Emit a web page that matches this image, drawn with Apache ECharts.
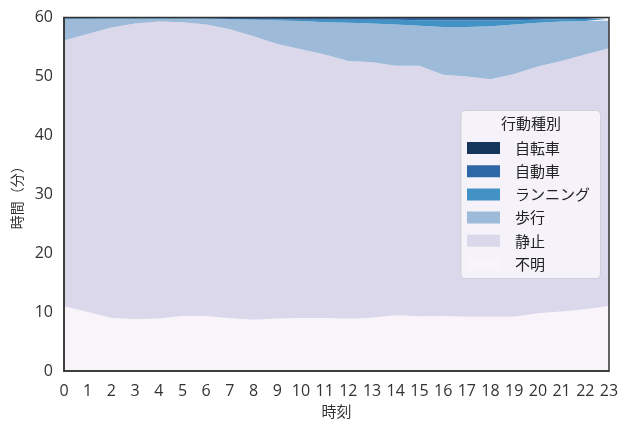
<!DOCTYPE html>
<html><head><meta charset="utf-8">
<script src="https://cdn.jsdelivr.net/npm/echarts@6/dist/echarts.min.js"></script>
<style>html,body{margin:0;padding:0;background:#fff;}#c{width:620px;height:421px;}</style>
</head><body><div id="c"></div>
<script>
const hours = ['0','1','2','3','4','5','6','7','8','9','10','11','12','13','14','15','16','17','18','19','20','21','22','23'];
const unknownVals = [11.0,10.0,9.0,8.8,8.9,9.35,9.35,8.95,8.7,8.9,9.0,9.0,8.85,9.05,9.45,9.3,9.35,9.2,9.2,9.2,9.8,10.1,10.5,11.05];
const stillVals = [45.1,47.2,49.3,50.2,50.4,49.85,49.45,49.05,48.1,46.6,45.6,44.7,43.75,43.35,42.35,42.5,40.95,40.8,40.3,41.2,41.9,42.5,43.2,43.75];
const walkVals = [3.65,2.55,1.5,0.8,0.5,0.6,0.95,1.7,2.8,4.0,4.8,5.5,6.5,6.6,7.0,6.8,8.1,8.4,9.0,8.4,7.4,6.7,5.7,4.7];
const runVals = [0.1,0.1,0.1,0.1,0.1,0.1,0.1,0.05,0.1,0.15,0.2,0.4,0.5,0.6,0.8,0.95,1.1,1.1,1.0,0.75,0.5,0.4,0.35,0.3];
const carVals = [0.1,0.1,0.05,0.05,0.05,0.05,0.1,0.15,0.2,0.25,0.3,0.3,0.3,0.3,0.3,0.35,0.4,0.4,0.4,0.35,0.3,0.25,0.2,0.15];
const bikeVals = [0.05,0.05,0.05,0.05,0.05,0.05,0.05,0.1,0.1,0.1,0.1,0.1,0.1,0.1,0.1,0.1,0.1,0.1,0.1,0.1,0.1,0.05,0.05,0.05];
const yTicks = [0,10,20,30,40,50,60];

const CJK = '"Noto Sans CJK JP", sans-serif';
const NUM = '"Open Sans", "DejaVu Sans", sans-serif';
const seriesDefs = [
  {name:'不明', data:unknownVals, color:'#f8f4fa'},
  {name:'静止', data:stillVals, color:'#dcd8eb'},
  {name:'歩行', data:walkVals, color:'#9dbad9'},
  {name:'ランニング', data:runVals, color:'#4292c6'},
  {name:'自動車', data:carVals, color:'#2e67a5'},
  {name:'自転車', data:bikeVals, color:'#15365a'}
];
const G = {left:64, right:11, top:17.5, bottom:50};
const W = 620, H = 421;
const chart = echarts.init(document.getElementById('c'), null, {renderer:'canvas'});
const axisLine = {show:true, lineStyle:{color:'#333', width:1.5}};
chart.setOption({
  animation:false,
  textStyle:{fontFamily:CJK},
  grid:Object.assign({outerBoundsMode:'none', containLabel:false}, G),
  xAxis:{
    type:'category', data:hours, boundaryGap:false, z:10,
    axisLine:axisLine, axisTick:{show:false},
    axisLabel:{color:'#333', fontSize:16, margin:12, fontFamily:NUM, interval:0},
    splitLine:{show:false},
    name:'時刻', nameLocation:'middle', nameGap:31,
    nameTextStyle:{color:'#333', fontSize:15, fontFamily:CJK}
  },
  yAxis:{
    type:'value', min:yTicks[0], max:yTicks[yTicks.length-1], interval:10, z:10,
    axisLine:axisLine, axisTick:{show:false},
    axisLabel:{color:'#333', fontSize:16, margin:11, fontFamily:NUM},
    splitLine:{show:false},
    name:'時間（分）', nameLocation:'middle', nameGap:34, nameRotate:90,
    nameTextStyle:{color:'#333', fontSize:14, fontFamily:CJK}
  },
  legend:{
    orient:'vertical', left:467, top:140.5, padding:0, itemWidth:33, itemHeight:12, itemGap:8.2,
    icon:'rect', z:20,
    data:['自転車','自動車','ランニング','歩行','静止','不明'],
    textStyle:{color:'#222', fontSize:15, fontFamily:CJK, padding:[0,0,0,10]}
  },
  graphic:[
    {type:'rect', z:12, silent:true,
     shape:{x:G.left, y:G.top, width:W-G.left-G.right, height:H-G.top-G.bottom},
     style:{fill:null, stroke:'#333', lineWidth:1.5}},
    {type:'rect', shape:{x:461, y:110.5, width:139.5, height:168, r:4}, z:15,
     style:{fill:'rgba(247,246,251,0.9)', stroke:'#d0d0d8', lineWidth:1}},
    {type:'text', x:531, y:123, z:16, style:{text:'行動種別', fill:'#222', font:'15px '+CJK, textAlign:'center', textVerticalAlign:'middle'}}
  ],
  series: seriesDefs.map(s => ({
    name:s.name, type:'line', stack:'total', data:s.data, symbol:'none',
    lineStyle:{width:0}, areaStyle:{color:s.color, opacity:1}, itemStyle:{color:s.color},
    emphasis:{disabled:true}
  }))
});
</script></body></html>
